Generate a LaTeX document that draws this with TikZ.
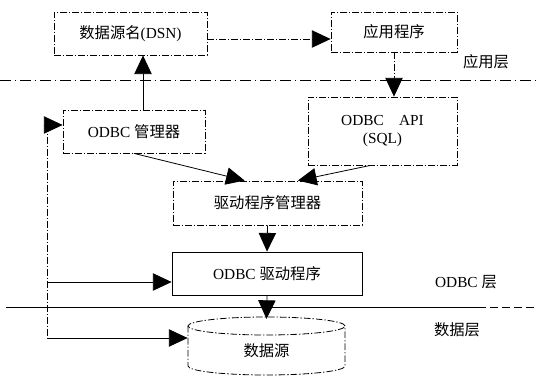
\documentclass[tikz,border=0pt]{standalone}
\usepackage{fontspec}
\setmainfont{Liberation Serif}
\newfontfamily\cjk{Noto Sans CJK SC}
\usetikzlibrary{arrows.meta,calc}
\begin{document}
\begin{tikzpicture}[x=0.75pt,y=-0.75pt,
  line width=0.6pt, font=\fontsize{11.5}{13.5}\selectfont,
  box/.style={draw, dash pattern=on 5pt off 1.5pt on 1pt off 1.5pt, inner sep=0pt},
  arr/.style={-{Triangle[length=14pt,width=13pt]}},
  dd/.style={dash pattern=on 5pt off 1.5pt on 1pt off 1.5pt}]
\useasboundingbox (0,0) rectangle (536,377);
% layer lines
\coordinate (l1a) at (0,80); \coordinate (l1b) at (536,80);
\draw[dash pattern=on 8pt off 3pt on 1pt off 3pt] (l1a) -- (l1b);
\coordinate (l2a) at (6,307); \coordinate (l2b) at (478,307); \coordinate (l2c) at (536,307);
\draw (l2a) -- (l2b);
\draw[dash pattern=on 6pt off 3pt] (l2b) -- (l2c);
% boxes
\node[box, minimum width={153*0.75pt}, minimum height={43*0.75pt}] (dsn) at (130.5,33.5) {{\cjk 数据源名}(DSN)};
\node[box, minimum width={126*0.75pt}, minimum height={40*0.75pt}] (app) at (394,32) {\cjk 应用程序};
\node[box, minimum width={142*0.75pt}, minimum height={43*0.75pt}] (odbcm) at (134,131.5) {ODBC {\cjk 管理器}};
\node[box, align=center, minimum width={149*0.75pt}, minimum height={68*0.75pt}] (api) at (382.5,131) {ODBC\quad API\\(SQL)};
\node[box, minimum width={189*0.75pt}, minimum height={44*0.75pt}] (drvm) at (267.5,203) {\cjk 驱动程序管理器};
\node[draw, minimum width={190*0.75pt}, minimum height={43*0.75pt}] (drv) at (267,273.5) {ODBC {\cjk 驱动程序}};
% cylinder
\node[minimum width={157*0.75pt}, minimum height={58*0.75pt}] (ds) at (266.5,348) {};
\node (dstext) at (266.5,351) {\cjk 数据源};
\draw[dd] (266.5,326) ellipse [x radius=58.9pt, y radius=6.75pt];
\draw[dd] (188,326) -- (188,366) arc[start angle=180, end angle=360, x radius=58.9pt, y radius=6.75pt] -- (345,326);
% labels
\node (lab1) at (486,62) {\cjk 应用层};
\node (lab2) at (466,282) {ODBC {\cjk 层}};
\node (lab3) at (457,330) {\cjk 数据层};
% connectors
\draw[arr, dd] (dsn.east |- 0,39) -- (app.west |- 0,39);
\draw[arr, dd] (app.south) -- (app.south |- api.north);
\draw[arr] ([xshift=6.75pt]odbcm.north) -- ([xshift=6.75pt]odbcm.north |- dsn.south);
\draw[arr] (odbcm.south) -- ($(drvm.north west)!0.38!(drvm.north east)$);
\draw[arr] ([xshift=-9pt]api.south) -- ($(drvm.north west)!0.66!(drvm.north east)$);
\draw[arr] (drvm.south) -- (drv.north);
\draw[arr] (drv.south) -- (266.5,319);
\coordinate (j1) at (47,125);
\coordinate (j2) at (47,282);
\coordinate (j3) at (47,338);
\draw[dd] (j1) -- (j3);
\draw[arr] (j1) -- (odbcm.west |- j1);
\draw[arr] (j2) -- (drv.west |- j2);
\draw[arr] (j3) -- (ds.west |- j3);
\end{tikzpicture}
\end{document}
